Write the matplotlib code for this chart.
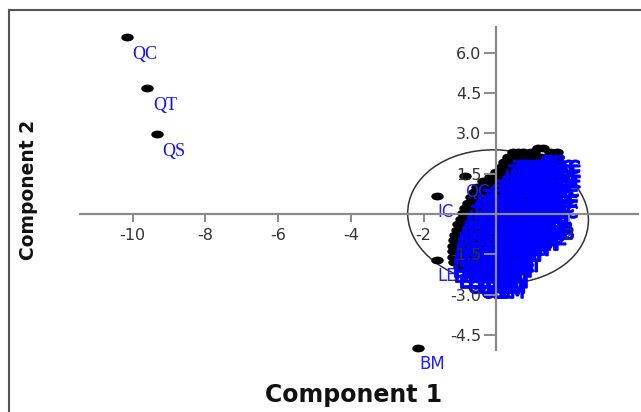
import matplotlib
matplotlib.use("Agg")
import matplotlib.pyplot as plt
import matplotlib.patheffects as pe
from matplotlib.path import Path
from matplotlib.transforms import Affine2D
from matplotlib.patches import Ellipse
from matplotlib.lines import Line2D

plt.rcParams['axes.unicode_minus'] = False
plt.rcParams['font.family'] = ['DejaVu Sans']

# samples far from the group (labels drawn in a serif face in the original)
far_lab = ['QC', 'QT', 'QS']
far_x = [-10.17, -9.61, -9.34]
far_y = [6.57, 4.67, 2.96]

# loose samples around the main group
loose_lab = ['BM', 'IC', 'LE', 'QC']
loose_x = [-2.14, -1.64, -1.64, -0.87]
loose_y = [-4.99, 0.67, -1.71, 1.41]

# main group, read row by row from top to bottom
row_y = [2.47, 2.29, 2.12, 1.93, 1.74, 1.56, 1.39, 1.21, 1.02, 0.82, 0.62, 0.42, 0.22,
         0.02, -0.18, -0.38, -0.58, -0.78, -0.98, -1.18, -1.38, -1.58, -1.78, -1.98,
         -2.18, -2.36]
row_x = [
    [1.15, 1.29],
    [0.46, 0.60, 0.74, 0.95, 1.05, 1.48, 1.66],
    [0.33, 0.55, 0.80, 1.02, 1.24, 1.45, 1.70],
    [0.22, 0.47, 0.70, 0.93, 1.18, 1.40, 1.64],
    [0.12, 0.36, 0.58, 0.84, 1.07, 1.30, 1.52, 1.70],
    [-0.02, 0.20, 0.45, 0.68, 0.90, 1.13, 1.36, 1.60],
    [-0.18, 0.05, 0.30, 0.52, 0.76, 0.99, 1.22, 1.45, 1.68],
    [-0.37, -0.12, 0.10, 0.35, 0.58, 0.82, 1.05, 1.28, 1.50, 1.70],
    [-0.54, -0.30, -0.07, 0.18, 0.42, 0.64, 0.88, 1.10, 1.34, 1.58],
    [-0.62, -0.38, -0.15, 0.08, 0.32, 0.56, 0.78, 1.02, 1.25, 1.48, 1.66],
    [-0.69, -0.45, -0.22, 0.02, 0.25, 0.48, 0.72, 0.95, 1.18, 1.40, 1.60],
    [-0.77, -0.53, -0.30, -0.06, 0.17, 0.41, 0.64, 0.87, 1.10, 1.33, 1.55],
    [-0.85, -0.60, -0.37, -0.14, 0.10, 0.33, 0.57, 0.80, 1.03, 1.26, 1.50],
    [-0.91, -0.68, -0.44, -0.20, 0.03, 0.27, 0.50, 0.74, 0.97, 1.20, 1.43, 1.64],
    [-0.98, -0.74, -0.50, -0.27, -0.04, 0.20, 0.43, 0.66, 0.90, 1.13, 1.36, 1.56],
    [-1.04, -0.80, -0.57, -0.33, -0.10, 0.13, 0.37, 0.60, 0.84, 1.07, 1.30],
    [-1.09, -0.85, -0.62, -0.39, -0.15, 0.08, 0.31, 0.55, 0.78, 1.01, 1.24],
    [-1.13, -0.90, -0.66, -0.43, -0.20, 0.04, 0.27, 0.50, 0.74, 0.97],
    [-1.15, -0.92, -0.69, -0.45, -0.22, 0.01, 0.24, 0.48, 0.71, 0.95],
    [-1.18, -0.94, -0.71, -0.48, -0.25, -0.01, 0.22, 0.45, 0.68],
    [-1.19, -0.96, -0.72, -0.49, -0.26, -0.03, 0.20, 0.43, 0.62],
    [-1.19, -0.95, -0.72, -0.49, -0.25, -0.02, 0.21, 0.45],
    [-1.17, -0.93, -0.70, -0.47, -0.23, 0.00, 0.30],
    [-1.02, -0.78, -0.55, -0.31, -0.08, 0.16],
    [-0.78, -0.54, -0.30, -0.07, 0.08],
    [-0.42, -0.18, 0.05],
]
row_lab = [
    "AC TC",
    "TC QC MC AC LC BC AC",
    "TC AM QC TP AC IC CE",
    "IP TC LB QC AP CP IP",
    "QC MI TB AC LP IC BM CE",
    "TC IB QP LC AM TP CE AP",
    "QC TM IB LE MC AP BC LP TC",
    "TC QC IM AC LB TP BM IC CP LE",
    "IC TC QM AP LC MI TB CE IP AC",
    "QC LE TP BC IM AC QB LM CE AP IC",
    "TC IP LB AC MI CM QC TP BM LE AC",
    "IC AM TC LP QM CE BC IB MI AP IB",
    "LE TC QB IC AP LM TM CE BC LB IB",
    "IP QC LE CM TB MI AC QP IC TC LB IB",
    "LE TP IC BM AC LM CE QB MI AP IN LB",
    "IP LC TB QM AC IC BM TP CE MI N2",
    "LE IC TC QP LB AM CE BC MI LM IN",
    "IP TC LE AC QB CE IM TP MI IN",
    "LE QC IP BM AC CM TB LE MI IF",
    "IP LC QB TC AM CE LB MI IF",
    "LE IC TP BC QM AC LM CE MI",
    "LE TC AP IB CM QC BM MI",
    "LE CE IP TC AM BM MI",
    "LE CE TC QB AC BM",
    "CE LE BM AC CM",
    "CE CE BM",
]

xticks = [-10, -8, -6, -4, -2, 2]
yticks = [-4.5, -3.0, -1.5, 1.5, 3.0, 4.5, 6.0]

# group ellipse
ell_xy = (0.05, -0.10)
ell_w = 5.10
ell_h = 4.84
ell_ang = -45

grp_x = []
grp_y = []
grp_lab = []
for yy, xs, labs in zip(row_y, row_x, row_lab):
    for xx, lb in zip(xs, labs.split()):
        grp_x.append(xx)
        grp_y.append(yy)
        grp_lab.append(lb)

fig = plt.figure(figsize=(6.41, 4.12), dpi=100)
fig.patch.set_facecolor('white')
ax = fig.add_axes([80/641, 62/412, 558/641, 323/412])
ax.set_xlim(-11.45, 3.90)
ax.set_ylim(-5.056, 6.952)

for s in ['top', 'right']:
    ax.spines[s].set_visible(False)
for s in ['left', 'bottom']:
    ax.spines[s].set_position(('data', 0))
    ax.spines[s].set_color('#8a8a8a')
    ax.spines[s].set_linewidth(1.6)
    ax.spines[s].set_zorder(6)

ax.set_xticks(xticks)
ax.set_xticklabels(['%d' % v for v in xticks])
ax.set_yticks(yticks)
ax.set_yticklabels(['%.1f' % v for v in yticks])
ax.tick_params(axis='x', length=5.8, width=1.4, color='#8a8a8a', pad=4,
               labelsize=11.5, labelcolor='#333333')
ax.tick_params(axis='y', length=8.6, width=1.4, color='#8a8a8a', pad=2,
               labelsize=11.5, labelcolor='#333333')
ax.xaxis.set_zorder(6)
ax.yaxis.set_zorder(6)

ax.add_patch(Ellipse(ell_xy, ell_w, ell_h, angle=ell_ang, fill=False,
                     ec='#333333', lw=1.1, zorder=2))

# dots look squashed in the original, use a wide ellipse marker
dot = Path.unit_circle().transformed(Affine2D().scale(1.6, 1.0))
all_x = far_x + loose_x + grp_x
all_y = far_y + loose_y + grp_y
ax.plot(all_x, all_y, linestyle='none', marker=dot, ms=9.0, color='black',
        mec='none', zorder=3, clip_on=False)

for lb, xx, yy in zip(far_lab, far_x, far_y):
    ax.annotate(lb, (xx, yy), xytext=(4.3, -6.3), textcoords='offset points',
                ha='left', va='top', color='#1010ff', fontsize=13,
                family=['Liberation Serif'], zorder=4, annotation_clip=False)

for lb, xx, yy in zip(loose_lab, loose_x, loose_y):
    ax.annotate(lb, (xx, yy), xytext=(0.5, -5.2), textcoords='offset points',
                ha='left', va='top', color='#2020ff', fontsize=12,
                zorder=4, annotation_clip=False)

# labels of the crowded group pile up into an almost solid blue blob
thick = [pe.withStroke(linewidth=1.3, foreground='#0000ff')]
for lb, xx, yy in zip(grp_lab, grp_x, grp_y):
    ax.annotate(lb, (xx, yy), xytext=(0.5, -4.6), textcoords='offset points',
                ha='left', va='top', color='#0000ff', fontsize=12,
                zorder=4, annotation_clip=False, path_effects=thick)

fig.text(354/641, 10/412, 'Component 1', ha='center', va='baseline',
         fontsize=17, fontweight='bold', color='#111111')
fig.text(29/641, (412-190)/412, 'Component 2', rotation=90, ha='center',
         va='center', fontsize=13.5, fontweight='bold', color='#111111')

# window frame visible on the left and top
fig.add_artist(Line2D([9/641, 1], [1-10/412, 1-10/412], transform=fig.transFigure,
                      color='#555555', lw=1.5))
fig.add_artist(Line2D([9/641, 9/641], [0, 1-10/412], transform=fig.transFigure,
                      color='#555555', lw=1.5))

fig.savefig('out.png', dpi=100)
